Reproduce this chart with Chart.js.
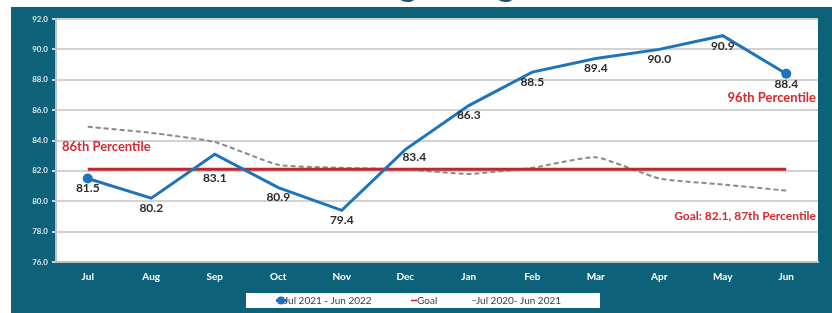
<!DOCTYPE html>
<html><head><meta charset="utf-8">
<script src="https://cdn.jsdelivr.net/npm/chart.js@4"></script>
<style>html,body{margin:0;padding:0;background:#fff;overflow:hidden}#wrap{width:832px;height:313px}</style>
</head><body><div id="wrap"><canvas id="c" width="832" height="313"></canvas></div>
<script>
const months = ['Jul','Aug','Sep','Oct','Nov','Dec','Jan','Feb','Mar','Apr','May','Jun'];
const current = [81.5, 80.2, 83.1, 80.9, 79.4, 83.4, 86.3, 88.5, 89.4, 90.0, 90.9, 88.4];
const goal = [82.1, 82.1, 82.1, 82.1, 82.1, 82.1, 82.1, 82.1, 82.1, 82.1, 82.1, 82.1];
const prior = [84.9, 84.5, 83.9, 82.4, 82.2, 82.1, 81.8, 82.2, 82.9, 81.5, 81.1, 80.7];
const seriesNames = ['Jul 2021 - Jun 2022', 'Goal', 'Jul 2020- Jun 2021'];
const yMin = 76, yMax = 92, yStep = 2;

const TEAL = '#0d627a';
const BLUE = '#1e74bb';
const RED = '#c4262e';
const GRAY = '#8a8a8a';

const bgPlugin = {
  id: 'bg',
  beforeDraw(chart) {
    const ctx = chart.ctx, a = chart.chartArea;
    ctx.save();
    ctx.fillStyle = '#ffffff';
    ctx.fillRect(0, 0, chart.width, chart.height);
    ctx.fillStyle = TEAL;
    ctx.fillRect(11, 7, chart.width - 11, chart.height - 7);
    ctx.fillStyle = '#ffffff';
    ctx.fillRect(a.left, a.top, a.right - a.left, a.bottom - a.top);
    // cut-off title glyphs above the frame
    ctx.fillStyle = '#1f4e79';
    ctx.font = 'bold 36px Lato';
    ctx.textAlign = 'center';
    ctx.textBaseline = 'alphabetic';
    ctx.fillText('g', 408, -4);
    ctx.fillText('g', 506, -4);
    ctx.restore();
  }
};

const labelPlugin = {
  id: 'labels',
  afterDatasetsDraw(chart) {
    const ctx = chart.ctx;
    const ys = chart.scales.y;
    const meta = chart.getDatasetMeta(0);
    ctx.save();
    ctx.font = 'bold 12px Lato';
    ctx.fillStyle = '#2b2b2b';
    ctx.textAlign = 'center';
    ctx.textBaseline = 'middle';
    const special = {2: [0, 24], 5: [9, 8]};
    meta.data.forEach((pt, i) => {
      const off = special[i] || [0, 10];
      ctx.fillText(current[i].toFixed(1), pt.x + off[0], pt.y + off[1]);
    });
    // red annotation texts
    ctx.fillStyle = '#d42a30';
    ctx.font = 'bold 13px Lato';
    ctx.textAlign = 'left';
    ctx.fillText('86th Percentile', chart.chartArea.left + 6, ys.getPixelForValue(83.6));
    ctx.textAlign = 'right';
    ctx.fillText('96th Percentile', chart.chartArea.right - 2, ys.getPixelForValue(86.8));
    ctx.font = 'bold 12px Lato';
    ctx.fillText('Goal: 82.1, 87th Percentile', chart.chartArea.right - 2, ys.getPixelForValue(79.0));
    // legend
    const lx = 246, ly = 293, lw = 354, lh = 15;
    ctx.fillStyle = '#ffffff';
    ctx.fillRect(lx, ly, lw, lh);
    const cy = ly + lh / 2;
    ctx.font = '10px Lato';
    ctx.textAlign = 'left';
    // item 1
    ctx.strokeStyle = BLUE; ctx.lineWidth = 3;
    ctx.beginPath(); ctx.moveTo(276, cy); ctx.lineTo(287, cy); ctx.stroke();
    ctx.fillStyle = BLUE;
    ctx.beginPath(); ctx.arc(281, cy, 4, 0, Math.PI * 2); ctx.fill();
    ctx.fillStyle = '#3a3a3a';
    ctx.fillText(seriesNames[0], 284, cy);
    // item 2
    ctx.strokeStyle = RED; ctx.lineWidth = 1.5;
    ctx.beginPath(); ctx.moveTo(411, cy); ctx.lineTo(417, cy); ctx.stroke();
    ctx.fillText(seriesNames[1], 417, cy);
    // item 3
    ctx.strokeStyle = GRAY; ctx.lineWidth = 1;
    ctx.beginPath(); ctx.moveTo(472, cy); ctx.lineTo(476, cy); ctx.stroke();
    ctx.fillText(seriesNames[2], 476, cy);
    ctx.restore();
  }
};

new Chart(document.getElementById('c'), {
  type: 'line',
  data: {
    labels: months,
    datasets: [
      {
        label: seriesNames[0], data: current,
        borderColor: BLUE, backgroundColor: BLUE, borderWidth: 3,
        pointRadius: current.map((v, i) => (i === 0 || i === current.length - 1) ? 5 : 0),
        pointBackgroundColor: BLUE, pointBorderWidth: 0, tension: 0
      },
      {
        label: seriesNames[1], data: goal,
        borderColor: RED, borderWidth: 3, pointRadius: 0, tension: 0
      },
      {
        label: seriesNames[2], data: prior,
        borderColor: GRAY, borderWidth: 2, borderDash: [5, 3], pointRadius: 0, tension: 0.15
      }
    ]
  },
  options: {
    responsive: false, animation: false, devicePixelRatio: 1,
    layout: { padding: { left: 11, top: 19, right: 14, bottom: 0 } },
    plugins: { legend: { display: false }, tooltip: { enabled: false }, title: { display: false } },
    scales: {
      x: {
        offset: true,
        grid: { display: false, drawTicks: false },
        border: { display: true, color: '#bfbfbf', width: 2 },
        ticks: { color: '#ffffff', font: { family: 'Lato', weight: 'bold', size: 10 }, padding: 9, maxRotation: 0 },
        afterFit(s) { s.height = 51; }
      },
      y: {
        min: yMin, max: yMax,
        grid: { color: '#d2d2d2', lineWidth: 2, tickLength: 4, drawTicks: true },
        border: { display: true, color: '#bfbfbf', width: 2 },
        ticks: { stepSize: yStep, color: '#dde6ea', font: { family: 'Lato', weight: 'bold', size: 8 }, padding: 4,
          callback: v => Number(v).toFixed(1) },
        afterFit(s) { s.width = 45; }
      }
    }
  },
  plugins: [bgPlugin, labelPlugin]
});
</script></body></html>
